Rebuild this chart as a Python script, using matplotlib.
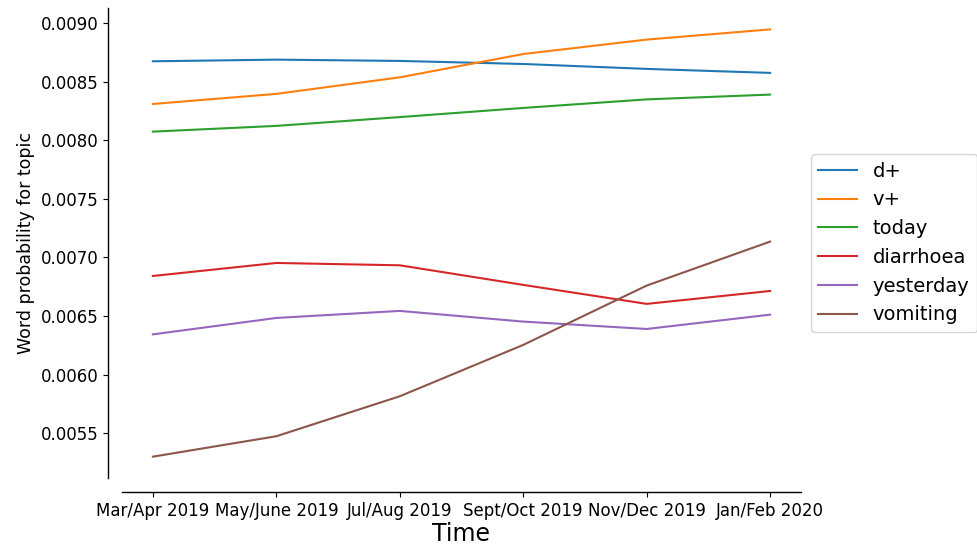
import matplotlib.pyplot as plt
import numpy as np

periods = ["Mar/Apr 2019", "May/June 2019", "Jul/Aug 2019",
           "Sept/Oct 2019", "Nov/Dec 2019", "Jan/Feb 2020"]

d_plus = [0.008673, 0.008687, 0.008676, 0.008650, 0.008608, 0.008574]
v_plus = [0.008309, 0.008395, 0.008536, 0.008735, 0.008858, 0.008945]
today = [0.008073, 0.008122, 0.008197, 0.008275, 0.008348, 0.008389]
diarrhoea = [0.006842, 0.006953, 0.006933, 0.006766, 0.006604, 0.006714]
yesterday = [0.006344, 0.006484, 0.006544, 0.006453, 0.006390, 0.006512]
vomiting = [0.005301, 0.005475, 0.005816, 0.006254, 0.006760, 0.007135]

words = ["d+", "v+", "today", "diarrhoea", "yesterday", "vomiting"]
series = [d_plus, v_plus, today, diarrhoea, yesterday, vomiting]

fig = plt.figure(figsize=(9.77, 5.46), dpi=100)
ax = fig.add_axes([0.1249, 0.1245, 0.6949, 0.8608])

x = np.arange(len(periods))
for word, vals in zip(words, series):
    ax.plot(x, vals, label=word, linewidth=1.5)

ax.set_xticks(x)
ax.set_xticklabels(periods)
ax.tick_params(labelsize=12)
ax.set_ylabel("Word probability for topic", fontsize=12.5)
ax.set_xlabel("Time", fontsize=17, labelpad=2)

# detached left/bottom spines, top/right removed
for side in ["top", "right"]:
    ax.spines[side].set_visible(False)
for side in ["left", "bottom"]:
    ax.spines[side].set_position(("outward", 10))
    ax.spines[side].set_linewidth(1.0)

ax.legend(loc="center left", bbox_to_anchor=(1, 0.5), fontsize=14)

fig.savefig("out.png", dpi=100)
